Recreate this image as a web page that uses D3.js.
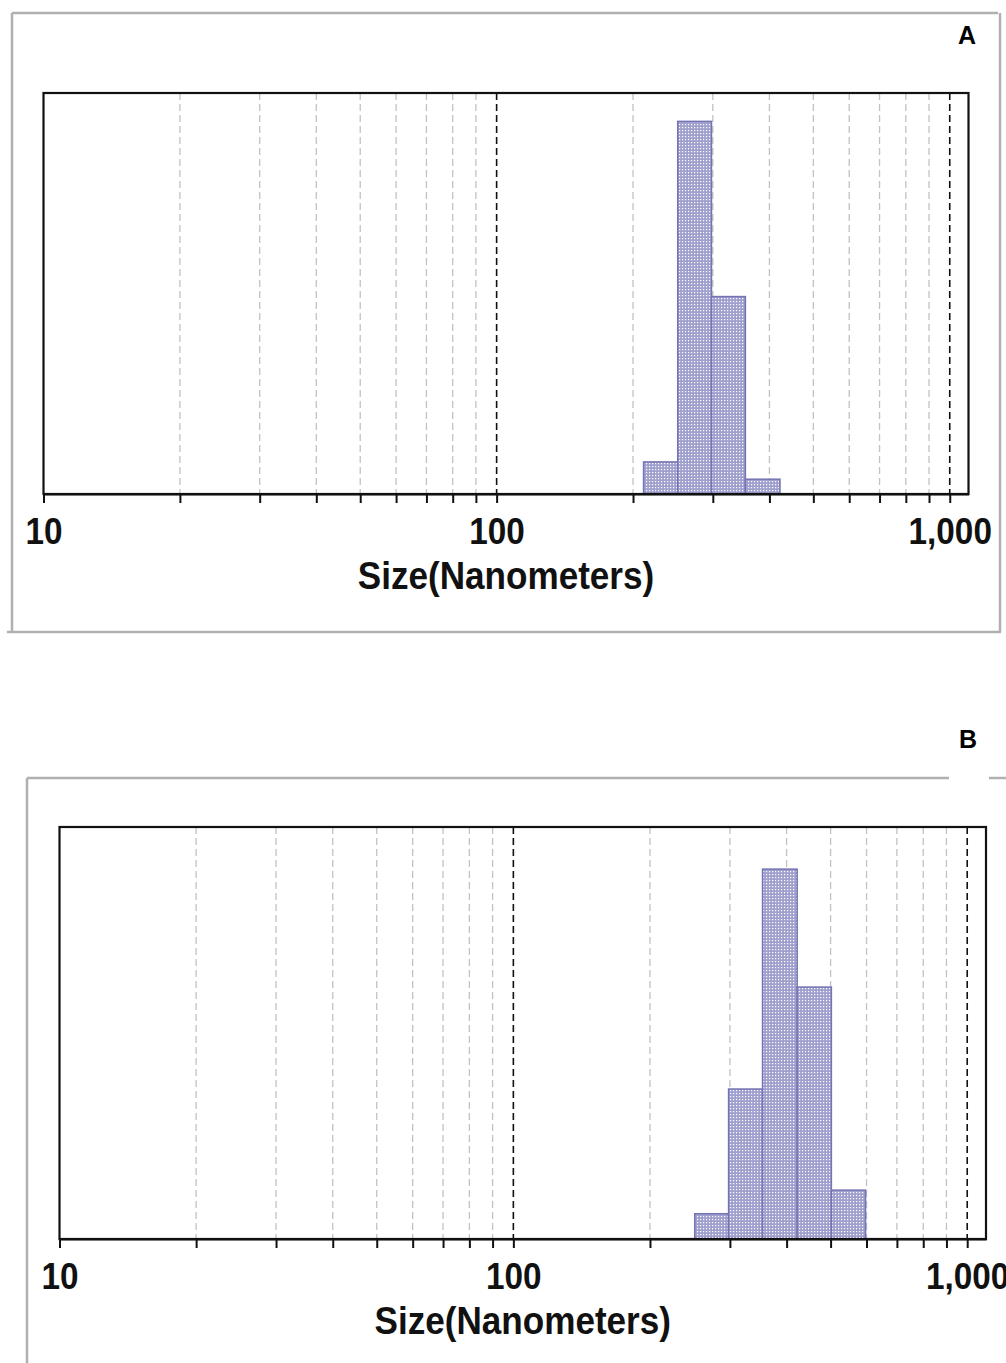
<!DOCTYPE html>
<html><head><meta charset="utf-8">
<script src="https://cdn.jsdelivr.net/npm/d3@7"></script>
<style>body{margin:0;background:#fff} svg{display:block}</style>
</head><body>
<svg id="chart" width="1006" height="1363"></svg>
<script>
// ---- data ----
const binEdges = [211, 251, 298, 354, 422, 502, 597];   // size bin edges (nm)
const seriesA = [5.2, 60.4, 32.0, 2.4, 0, 0];          // % per bin, panel A
const seriesB = [0, 3.0, 17.8, 43.9, 29.9, 5.8];        // % per bin, panel B
const yMaxA = 65.0;
const yMaxB = 48.9;
const xDomain = [10, 1100];
const tickValues = [10,20,30,40,50,60,70,80,90,100,200,300,400,500,600,700,800,900,1000];
const labeledTicks = [10, 100, 1000];
const majorGrid = [100, 1000];
const panelLabels = ["A", "B"];
const axisTitle = "Size(Nanometers)";

// ---- layout ----
const panels = [
  {label: panelLabels[0], values: seriesA, yMax: yMaxA, left: 43.5, right: 968.5, top: 93, bottom: 494, lx: 967, ly: 44},
  {label: panelLabels[1], values: seriesB, yMax: yMaxB, left: 59.5, right: 986, top: 827, bottom: 1239, lx: 968, ly: 748}
];

const svg = d3.select("#chart");
const defs = svg.append("defs");
const pat = defs.append("pattern").attr("id","dots").attr("patternUnits","userSpaceOnUse")
  .attr("width",3).attr("height",3);
pat.append("rect").attr("width",3).attr("height",3).attr("fill","#a0a0cf");
pat.append("rect").attr("x",1).attr("y",1).attr("width",1.2).attr("height",1.2).attr("fill","#ffffff");

// outer gray borders
const border = "#b0b0b0";
const borderLines = [
  [12,13,998,13],[12,13,12,632],[1000,13,1000,632],[7,632,1001,632],
  [27,778,949,778],[989,778,1006,778],[27,778,27,1363]
];
svg.append("g").selectAll("line").data(borderLines).join("line")
  .attr("x1",d=>d[0]).attr("y1",d=>d[1]).attr("x2",d=>d[2]).attr("y2",d=>d[3])
  .attr("stroke",border).attr("stroke-width",2.5);

const fmt = d3.format(",");
const font = "'Liberation Sans', Arial, sans-serif";

panels.forEach(p => {
  const g = svg.append("g");
  const x = d3.scaleLog().domain(xDomain).range([p.left, p.right]);
  const y = d3.scaleLinear().domain([0, p.yMax]).range([p.bottom, p.top]);

  // grid lines
  g.append("g").selectAll("line").data(tickValues.filter(t => t > xDomain[0])).join("line")
    .attr("x1", d => x(d)).attr("x2", d => x(d))
    .attr("y1", p.top).attr("y2", p.bottom)
    .attr("stroke", d => majorGrid.includes(d) ? "#111" : "#c2c2c2")
    .attr("stroke-width", d => majorGrid.includes(d) ? 1.6 : 1.3)
    .attr("stroke-dasharray", "7,4");

  // bars
  const bins = p.values.map((v,i) => ({v, x0: binEdges[i], x1: binEdges[i+1]})).filter(b => b.v > 0);
  g.append("g").selectAll("rect").data(bins).join("rect")
    .attr("x", d => x(d.x0)).attr("width", d => x(d.x1) - x(d.x0))
    .attr("y", d => y(d.v)).attr("height", d => y(0) - y(d.v))
    .attr("fill", "url(#dots)").attr("stroke", "#7474b4").attr("stroke-width", 1.5);

  // frame
  g.append("rect").attr("x", p.left).attr("y", p.top)
    .attr("width", p.right - p.left).attr("height", p.bottom - p.top)
    .attr("fill", "none").attr("stroke", "#111").attr("stroke-width", 2.2);

  // x axis
  const ax = g.append("g").attr("transform", `translate(0,${p.bottom})`)
    .call(d3.axisBottom(x).tickValues(tickValues).tickSize(9).tickSizeOuter(0)
      .tickFormat(d => labeledTicks.includes(d) ? fmt(d) : ""));
  ax.select(".domain").attr("stroke", "#111").attr("stroke-width", 2.2);
  ax.selectAll(".tick line").attr("stroke", "#111").attr("stroke-width", 2);
  ax.selectAll(".tick text").attr("y", 0).attr("dy", 0)
    .attr("transform", "translate(0,50) scale(0.9,1)")
    .attr("fill", "#111").style("font-family", font)
    .style("font-weight", "bold").style("font-size", "37px");

  // axis title
  g.append("text")
    .attr("transform", `translate(${(p.left + p.right) / 2},${p.bottom + 95}) scale(0.9,1)`)
    .attr("text-anchor", "middle").attr("fill", "#111")
    .style("font-family", font)
    .style("font-weight", "bold").style("font-size", "39px").text(axisTitle);

  // panel label
  svg.append("text").attr("x", p.lx).attr("y", p.ly).attr("text-anchor", "middle")
    .attr("fill", "#000").style("font-family", font)
    .style("font-weight", "bold").style("font-size", "25px").text(p.label);
});
</script>
</body></html>
